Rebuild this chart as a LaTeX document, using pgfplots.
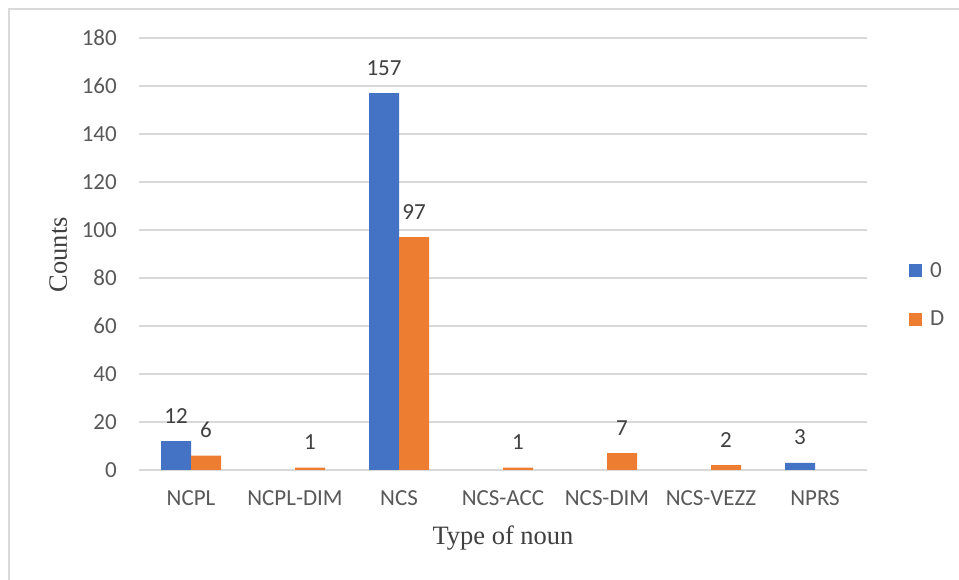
\documentclass[border=0pt]{standalone}
\usepackage{pgfplots}
\pgfplotsset{compat=1.18}
\usepackage{fontspec}
\setmainfont{Carlito}
\newfontfamily\serifcap{Liberation Serif}
\definecolor{cblue}{HTML}{4472C4}
\definecolor{corange}{HTML}{ED7D31}
\definecolor{gridc}{HTML}{D9D9D9}
\definecolor{txt}{HTML}{595959}
\definecolor{lbl}{HTML}{404040}
\begin{document}
\begin{tikzpicture}[x=1pt,y=1pt]
\path[use as bounding box,fill=white] (0,0) rectangle (959,580);
\draw[gridc,line width=2pt] (9,0) -- (9,571) -- (959,571);
\begin{axis}[
  at={(139pt,110pt)}, anchor=south west,
  scale only axis, width=728pt, height=432pt,
  ybar=0pt, bar width=30pt,
  xmin=-0.5, xmax=6.5, ymin=0, ymax=180,
  xtick={0,1,2,3,4,5,6},
  xticklabels={NCPL,NCPL-DIM,NCS,NCS-ACC,NCS-DIM,NCS-VEZZ,NPRS},
  ytick={0,20,...,180},
  major tick length=0pt,
  axis line style={draw=none},
  ymajorgrids, grid style={gridc,line width=1.5pt},
  xmajorgrids=false,
  tick label style={font=\fontsize{23}{27}\selectfont, text=txt},
  yticklabel style={inner sep=0pt, xshift=-22pt},
  xticklabel style={inner sep=0pt, anchor=north, yshift=-20pt},
  /pgf/number format/assume math mode=true,
  ylabel={Counts}, xlabel={Type of noun},
  label style={font=\serifcap\fontsize{26.5}{30}\selectfont, text=lbl},
  ylabel style={at={(axis description cs:-0.111,0.498)}, anchor=center, rotate=0},
  xlabel style={at={(axis description cs:0.5,-0.157)}, anchor=center},
  nodes near coords,
  every node near coord/.append style={font=\fontsize{23}{27}\selectfont, text=lbl, inner sep=0pt, anchor=base, yshift=18pt},
  legend style={at={(axis description cs:1.0575,0.405)}, anchor=west, draw=none, fill=none,
    font=\fontsize{23}{27}\selectfont, text=txt, row sep=28pt, inner sep=0pt},
  legend cell align=left,
  legend image code/.code={\fill[#1] (0pt,-6.5pt) rectangle (13pt,6.5pt); \path (19pt,0pt);},
]
\addplot[fill=cblue, draw=none] coordinates {(0,12) (2,157) (6,3)};
\addplot[fill=corange, draw=none] coordinates {(0,6) (1,1) (2,97) (3,1) (4,7) (5,2)};
\legend{0,D}
\end{axis}
\end{tikzpicture}
\end{document}
